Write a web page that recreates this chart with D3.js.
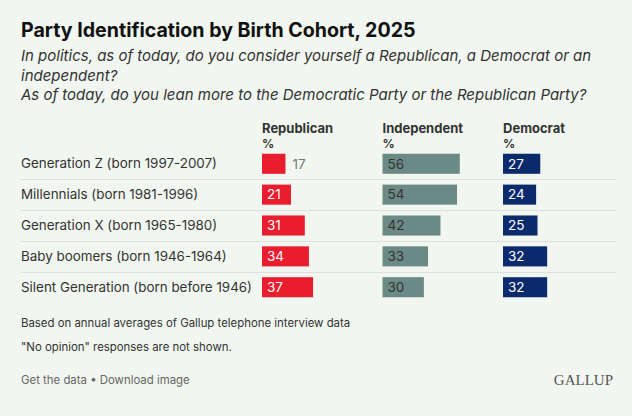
<!DOCTYPE html>
<html>
<head>
<meta charset="utf-8">
<script src="https://cdn.jsdelivr.net/npm/d3@7.9.0/dist/d3.min.js"></script>
<style>
  html, body { margin: 0; padding: 0; background: #f1f6f0; }
  svg { display: block; font-family: Inter, Roboto, "Noto Sans", sans-serif; }
</style>
</head>
<body>
<svg id="chart" width="632" height="416"></svg>
<script>
// Data
const cohorts = [
  "Generation Z (born 1997-2007)",
  "Millennials (born 1981-1996)",
  "Generation X (born 1965-1980)",
  "Baby boomers (born 1946-1964)",
  "Silent Generation (born before 1946)"
];
const parties = ["Republican", "Independent", "Democrat"];
const republican = [17, 21, 31, 34, 37];
const independent = [56, 54, 42, 33, 30];
const democrat = [27, 24, 25, 32, 32];

const series = [republican, independent, democrat];
const barColors = ["#e91d2d", "#6b8985", "#0b2a6b"];
const labelColors = ["#ffffff", "#333333", "#ffffff"];

const svg = d3.select('#chart');

// Title + subtitle
svg.append('text')
  .attr('x', 21).attr('y', 37)
  .attr('font-size', 19.6).attr('font-weight', 700).attr('fill', '#111')
  .text('Party Identification by Birth Cohort, 2025');

const subLines = [
  'In politics, as of today, do you consider yourself a Republican, a Democrat or an',
  'independent?',
  'As of today, do you lean more to the Democratic Party or the Republican Party?'
];
svg.selectAll('text.sub')
  .data(subLines)
  .join('text')
  .attr('class', 'sub')
  .attr('x', 21)
  .attr('y', (d, i) => 61 + i * 19.5)
  .attr('font-size', 15).attr('font-style', 'italic').attr('fill', '#333')
  .text(d => d);

// Scales
const y = d3.scaleBand().domain(cohorts).range([148.5, 302.5]).paddingInner(0.35).paddingOuter(0.17);
const colX = d3.scalePoint().domain(parties).range([262, 503]);
const w = d3.scaleLinear().domain([0, 100]).range([0, 138]);

// Column headers
parties.forEach(p => {
  svg.append('text')
    .attr('x', colX(p)).attr('y', 132.5)
    .attr('font-size', 13).attr('font-weight', 700).attr('fill', '#333')
    .text(p);
  svg.append('text')
    .attr('x', colX(p)).attr('y', 147.5)
    .attr('font-size', 12).attr('font-weight', 700).attr('fill', '#333')
    .text('%');
});

// Row separators
const rowStep = y.step();
svg.selectAll('line.sep')
  .data(cohorts.slice(1))
  .join('line')
  .attr('class', 'sep')
  .attr('x1', 20).attr('x2', 616)
  .attr('y1', d => Math.round(y(d) - (rowStep - y.bandwidth()) / 2) + 0.5)
  .attr('y2', d => Math.round(y(d) - (rowStep - y.bandwidth()) / 2) + 0.5)
  .attr('stroke', '#dde0dd').attr('stroke-width', 1);

// Row labels
svg.selectAll('text.cat')
  .data(cohorts)
  .join('text')
  .attr('class', 'cat')
  .attr('x', 21)
  .attr('y', d => y(d) + y.bandwidth() / 2)
  .attr('dy', '0.35em')
  .attr('font-size', 13.4).attr('fill', '#333')
  .text(d => d);

// Bars and value labels
series.forEach((vals, si) => {
  const x0 = colX(parties[si]);
  const g = svg.append('g');
  g.selectAll('rect')
    .data(vals)
    .join('rect')
    .attr('x', x0)
    .attr('y', (d, i) => y(cohorts[i]))
    .attr('width', d => w(d))
    .attr('height', y.bandwidth())
    .attr('fill', barColors[si]);
  g.selectAll('text')
    .data(vals)
    .join('text')
    .attr('x', d => w(d) < 26 ? x0 + w(d) + 7 : x0 + 5)
    .attr('y', (d, i) => y(cohorts[i]) + y.bandwidth() / 2)
    .attr('dy', '0.36em')
    .attr('font-size', 13.5)
    .attr('fill', d => w(d) < 26 ? '#777' : labelColors[si])
    .text(d => d);
});

// Notes
svg.append('text').attr('x', 21).attr('y', 327)
  .attr('font-size', 11.4).attr('fill', '#333')
  .text('Based on annual averages of Gallup telephone interview data');
svg.append('text').attr('x', 21).attr('y', 351)
  .attr('font-size', 11.4).attr('fill', '#333')
  .text('"No opinion" responses are not shown.');
svg.append('text').attr('x', 21).attr('y', 384)
  .attr('font-size', 11.4).attr('fill', '#666')
  .text('Get the data \u2022 Download image');
svg.append('text').attr('x', 613).attr('y', 385)
  .attr('text-anchor', 'end')
  .attr('font-family', '"Liberation Serif", "DejaVu Serif", serif')
  .attr('font-size', 15).attr('fill', '#555')
  .text('GALLUP');
</script>
</body>
</html>
